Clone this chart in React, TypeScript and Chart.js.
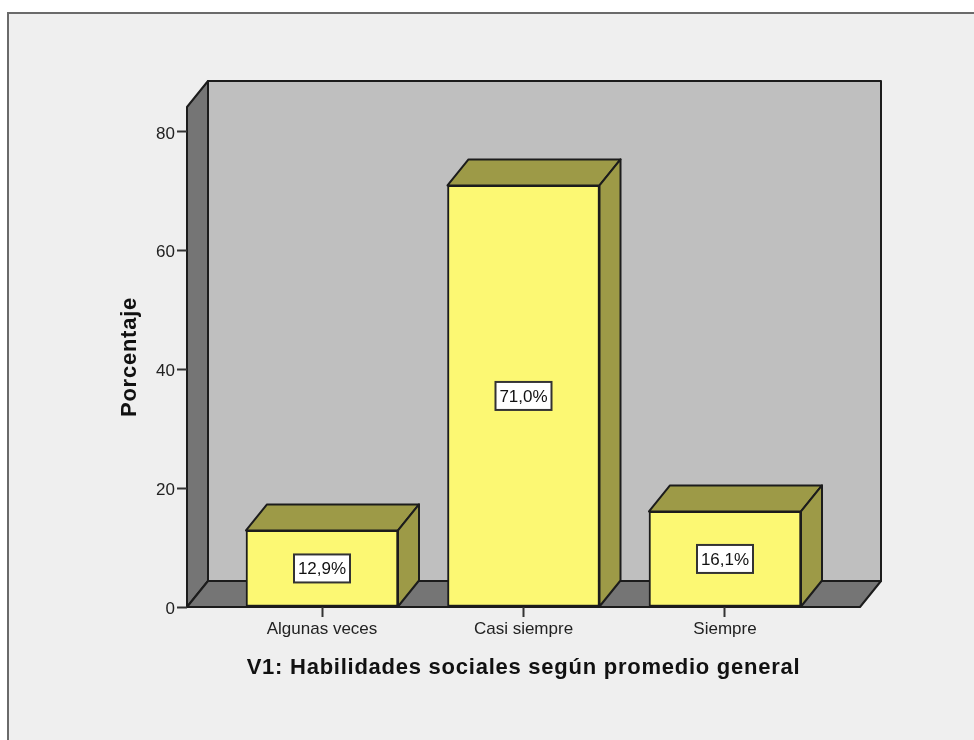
import React, { useEffect, useRef } from "react";
import { Chart, registerables } from "chart.js";

Chart.register(...registerables);

const categories = ["Algunas veces", "Casi siempre", "Siempre"];
const percentages = [12.9, 71.0, 16.1];
const yTicks = [0, 20, 40, 60, 80];
const xTitle = "V1: Habilidades sociales según promedio general";
const yTitle = "Porcentaje";

const DEPTH_X = 21;
const DEPTH_Y = 26;
const INK = "#1c1c1c";
const TEXT = "#222222";
const FONT = "'Liberation Sans', Arial, sans-serif";

function poly(ctx: CanvasRenderingContext2D, pts: number[][], fill: string) {
  ctx.beginPath();
  pts.forEach((p, i) => (i ? ctx.lineTo(p[0], p[1]) : ctx.moveTo(p[0], p[1])));
  ctx.closePath();
  ctx.fillStyle = fill;
  ctx.fill();
  ctx.lineWidth = 2;
  ctx.strokeStyle = INK;
  ctx.lineJoin = "round";
  ctx.stroke();
}

// The reference's axis titles are letter-spaced; the scale has no option for it.
function spaceTitle(scale: any) {
  const original = scale.constructor.prototype.drawTitle;
  scale.drawTitle = function () {
    const ctx = this.ctx;
    ctx.letterSpacing = "0.75px";
    original.call(this);
    ctx.letterSpacing = "0px";
  };
}

// The reference's value labels sit a little below their tick marks.
function lowerLabels(scale: any, dy: number) {
  const original = scale.constructor.prototype._computeLabelItems;
  scale._computeLabelItems = function (area: any) {
    const items = original.call(this, area);
    items.forEach((item: any) => {
      item.options.translation = [item.options.translation[0], item.options.translation[1] + dy];
    });
    return items;
  };
}

const scene = {
  id: "scene",
  beforeDraw(chart: any) {
    const ctx: CanvasRenderingContext2D = chart.ctx;
    const { left, right, top, bottom } = chart.chartArea;
    ctx.save();
    ctx.fillStyle = "#ffffff";
    ctx.fillRect(0, 0, chart.width, chart.height);
    ctx.fillStyle = "#efefef";
    ctx.fillRect(8, 13, chart.width - 8, chart.height - 13);
    ctx.fillStyle = "#6a6a6a";
    ctx.fillRect(7, 12, chart.width - 7, 2);
    ctx.fillRect(7, 12, 2, chart.height - 12);
    const dx = DEPTH_X;
    const dy = DEPTH_Y;
    poly(ctx, [[left + dx, top - dy], [right + dx, top - dy], [right + dx, bottom - dy], [left + dx, bottom - dy]], "#bfbfbf");
    poly(ctx, [[left, top], [left + dx, top - dy], [left + dx, bottom - dy], [left, bottom]], "#757575");
    poly(ctx, [[left, bottom], [left + dx, bottom - dy], [right + dx, bottom - dy], [right, bottom]], "#757575");
    ctx.restore();
  },
  beforeDatasetsDraw(chart: any) {
    const ctx: CanvasRenderingContext2D = chart.ctx;
    ctx.save();
    chart.getDatasetMeta(0).data.forEach((bar: any) => {
      const l = bar.x - bar.width / 2;
      const r = bar.x + bar.width / 2;
      const t = bar.y;
      const b = bar.base;
      poly(ctx, [[l, t], [l + DEPTH_X, t - DEPTH_Y], [r + DEPTH_X, t - DEPTH_Y], [r, t]], "#9d9a47");
      poly(ctx, [[r, t], [r + DEPTH_X, t - DEPTH_Y], [r + DEPTH_X, b - DEPTH_Y], [r, b]], "#9d9a47");
    });
    ctx.restore();
  },
  afterDatasetsDraw(chart: any) {
    const ctx: CanvasRenderingContext2D = chart.ctx;
    ctx.save();
    ctx.font = `17px ${FONT}`;
    ctx.textAlign = "center";
    ctx.textBaseline = "middle";
    chart.getDatasetMeta(0).data.forEach((bar: any, i: number) => {
      const text = percentages[i].toFixed(1).replace(".", ",") + "%";
      const cy = (bar.y + bar.base) / 2;
      const w = 56;
      const h = 28;
      ctx.fillStyle = "#ffffff";
      ctx.fillRect(bar.x - w / 2, cy - h / 2, w, h);
      ctx.lineWidth = 2;
      ctx.strokeStyle = "#333333";
      ctx.strokeRect(bar.x - w / 2, cy - h / 2, w, h);
      ctx.fillStyle = "#111111";
      ctx.fillText(text, bar.x, cy + 1);
    });
    ctx.restore();
  },
};

export default function App() {
  const ref = useRef<HTMLCanvasElement>(null);
  useEffect(() => {
    if (!ref.current) return;
    const chart = new Chart(ref.current, {
      type: "bar",
      data: {
        datasets: [
          {
            data: percentages.map((y, x) => ({ x, y })),
            backgroundColor: "#fcf873",
            borderColor: INK,
            borderWidth: 2,
            borderSkipped: false,
            barThickness: 152,
            clip: false,
          } as any,
        ],
      },
      options: {
        responsive: false,
        animation: false,
        devicePixelRatio: 1,
        layout: { padding: { left: 0, top: 107, right: 114, bottom: 0 } },
        plugins: { legend: { display: false }, tooltip: { enabled: false }, title: { display: false } },
        scales: {
          x: {
            type: "linear",
            offset: false,
            min: -0.67,
            max: 2.67,
            afterFit: (s: any) => { s.height = 133; },
            afterBuildTicks: (s: any) => {
              s.ticks = categories.map((_, value) => ({ value }));
              spaceTitle(s);
            },
            grid: { display: true, offset: false, drawOnChartArea: false, drawTicks: true, tickLength: 10, tickWidth: 2, color: "#333333" },
            border: { display: false },
            ticks: {
              autoSkip: false,
              maxRotation: 0,
              color: TEXT,
              padding: 2,
              font: { family: FONT, size: 17 },
              callback: (v: any) => categories[v],
            },
            title: {
              display: true,
              text: xTitle,
              color: "#111111",
              font: { family: FONT, size: 22, weight: "bold" },
              padding: { top: 0, bottom: 59 },
            },
          },
          y: {
            type: "linear",
            min: 0,
            max: 84.2,
            afterFit: (s: any) => { s.width = 187; },
            afterBuildTicks: (s: any) => {
              s.ticks = yTicks.map((value) => ({ value }));
              spaceTitle(s);
              lowerLabels(s, 2);
            },
            grid: { display: true, drawOnChartArea: false, drawTicks: true, tickLength: 10, tickWidth: 2, color: "#333333" },
            border: { display: false },
            ticks: { color: TEXT, padding: 2, font: { family: FONT, size: 17 } },
            title: {
              display: true,
              text: yTitle,
              color: "#111111",
              font: { family: FONT, size: 22, weight: "bold" },
              padding: { top: 117, bottom: 0 },
            },
          },
        },
      },
      plugins: [scene],
    } as any);
    return () => chart.destroy();
  }, []);
  return (
    <canvas
      ref={ref}
      width={974}
      height={740}
      style={{ position: "absolute", left: 0, top: 0, display: "block" }}
    />
  );
}
